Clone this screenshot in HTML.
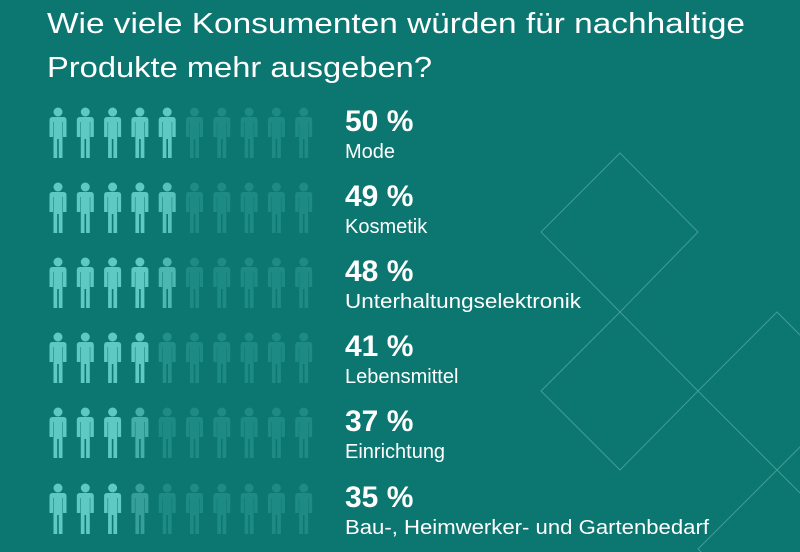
<!DOCTYPE html>
<html><head><meta charset="utf-8"><style>
html,body{margin:0;padding:0;background:#0c7670;width:800px;height:552px;overflow:hidden;}
svg{display:block;overflow:hidden}
text{font-family:"Liberation Sans",sans-serif;fill:#fff}
</style></head><body>
<svg width="800" height="552" viewBox="0 0 800 552">
<rect width="800" height="552" fill="#0c7670"/>
<defs>
<g id="p">
<circle cx="10" cy="5" r="4.5"/>
<path d="M1.5,13 Q1.5,10 4.5,10 H15.5 Q18.5,10 18.5,13 V30 H15 V15 H14.5 V51 H10.8 V32 H9.2 V51 H5.5 V15 H5 V30 H1.5 Z"/>
</g>
<clipPath id="c"><rect width="800" height="552"/></clipPath>
</defs>
<g fill="none" stroke="#4fa6a1" stroke-width="1" opacity="0.8" clip-path="url(#c)">
<path d="M620,153 L698,232 L620,312 L541,232 Z"/>
<path d="M620,312 L698,391 L620,470 L541,391 Z"/>
<path d="M777,312 L856,391 L777,470 L698,391 Z"/>
<path d="M777,470 L856,549 L777,628 L698,549 Z"/>
</g>
<text x="47" y="33" font-size="29" textLength="698" lengthAdjust="spacingAndGlyphs">Wie viele Konsumenten würden für nachhaltige</text>
<text x="47" y="77" font-size="29" textLength="385" lengthAdjust="spacingAndGlyphs">Produkte mehr ausgeben?</text>

<g transform="translate(48,107)">
<use href="#p" x="0" fill="#5ec8c2"/><use href="#p" x="27.3" fill="#5ec8c2"/><use href="#p" x="54.6" fill="#5ec8c2"/><use href="#p" x="81.9" fill="#5ec8c2"/><use href="#p" x="109.2" fill="#5ec8c2"/>
<use href="#p" x="136.5" fill="#1d8a84"/><use href="#p" x="163.8" fill="#1d8a84"/><use href="#p" x="191.1" fill="#1d8a84"/><use href="#p" x="218.4" fill="#1d8a84"/><use href="#p" x="245.7" fill="#1d8a84"/>
</g>
<g transform="translate(48,182)">
<use href="#p" x="0" fill="#5ec8c2"/><use href="#p" x="27.3" fill="#5ec8c2"/><use href="#p" x="54.6" fill="#5ec8c2"/><use href="#p" x="81.9" fill="#5ec8c2"/><use href="#p" x="109.2" fill="#56c0ba"/>
<use href="#p" x="136.5" fill="#1d8a84"/><use href="#p" x="163.8" fill="#1d8a84"/><use href="#p" x="191.1" fill="#1d8a84"/><use href="#p" x="218.4" fill="#1d8a84"/><use href="#p" x="245.7" fill="#1d8a84"/>
</g>
<g transform="translate(48,257)">
<use href="#p" x="0" fill="#5ec8c2"/><use href="#p" x="27.3" fill="#5ec8c2"/><use href="#p" x="54.6" fill="#5ec8c2"/><use href="#p" x="81.9" fill="#5ec8c2"/><use href="#p" x="109.2" fill="#4cb6b0"/>
<use href="#p" x="136.5" fill="#1d8a84"/><use href="#p" x="163.8" fill="#1d8a84"/><use href="#p" x="191.1" fill="#1d8a84"/><use href="#p" x="218.4" fill="#1d8a84"/><use href="#p" x="245.7" fill="#1d8a84"/>
</g>
<g transform="translate(48,332)">
<use href="#p" x="0" fill="#5ec8c2"/><use href="#p" x="27.3" fill="#5ec8c2"/><use href="#p" x="54.6" fill="#5ec8c2"/><use href="#p" x="81.9" fill="#5ec8c2"/><use href="#p" x="109.2" fill="#238f89"/>
<use href="#p" x="136.5" fill="#1d8a84"/><use href="#p" x="163.8" fill="#1d8a84"/><use href="#p" x="191.1" fill="#1d8a84"/><use href="#p" x="218.4" fill="#1d8a84"/><use href="#p" x="245.7" fill="#1d8a84"/>
</g>
<g transform="translate(48,407)">
<use href="#p" x="0" fill="#5ec8c2"/><use href="#p" x="27.3" fill="#5ec8c2"/><use href="#p" x="54.6" fill="#5ec8c2"/><use href="#p" x="81.9" fill="#44aea8"/>
<use href="#p" x="109.2" fill="#1d8a84"/><use href="#p" x="136.5" fill="#1d8a84"/><use href="#p" x="163.8" fill="#1d8a84"/><use href="#p" x="191.1" fill="#1d8a84"/><use href="#p" x="218.4" fill="#1d8a84"/><use href="#p" x="245.7" fill="#1d8a84"/>
</g>
<g transform="translate(48,483)">
<use href="#p" x="0" fill="#5ec8c2"/><use href="#p" x="27.3" fill="#5ec8c2"/><use href="#p" x="54.6" fill="#5ec8c2"/><use href="#p" x="81.9" fill="#379f99"/>
<use href="#p" x="109.2" fill="#1d8a84"/><use href="#p" x="136.5" fill="#1d8a84"/><use href="#p" x="163.8" fill="#1d8a84"/><use href="#p" x="191.1" fill="#1d8a84"/><use href="#p" x="218.4" fill="#1d8a84"/><use href="#p" x="245.7" fill="#1d8a84"/>
</g>

<g font-weight="bold" font-size="30">
<text x="345" y="131">50 %</text>
<text x="345" y="206">49 %</text>
<text x="345" y="281">48 %</text>
<text x="345" y="356">41 %</text>
<text x="345" y="431">37 %</text>
<text x="345" y="507">35 %</text>
</g>
<g font-size="20">
<text x="345" y="158">Mode</text>
<text x="345" y="233">Kosmetik</text>
<text x="345" y="308" textLength="236" lengthAdjust="spacingAndGlyphs">Unterhaltungselektronik</text>
<text x="345" y="383">Lebensmittel</text>
<text x="345" y="458">Einrichtung</text>
<text x="345" y="534" textLength="364" lengthAdjust="spacingAndGlyphs">Bau-, Heimwerker- und Gartenbedarf</text>
</g>
</svg>
</body></html>
